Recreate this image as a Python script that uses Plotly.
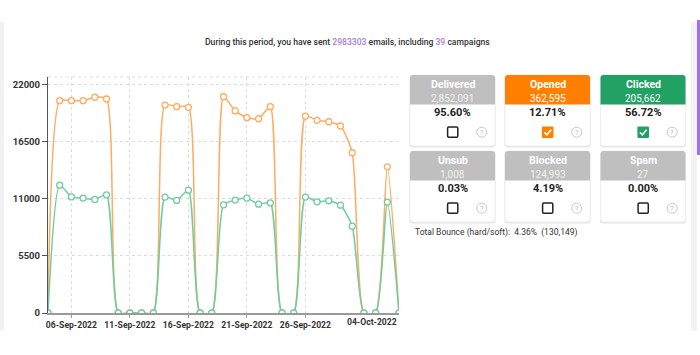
import plotly.graph_objects as go

# ---------------- data ----------------
dates = ["04-Sep-2022", "05-Sep-2022", "06-Sep-2022", "07-Sep-2022", "08-Sep-2022", "09-Sep-2022",
         "10-Sep-2022", "11-Sep-2022", "12-Sep-2022", "13-Sep-2022", "14-Sep-2022", "15-Sep-2022",
         "16-Sep-2022", "17-Sep-2022", "18-Sep-2022", "19-Sep-2022", "20-Sep-2022", "21-Sep-2022",
         "22-Sep-2022", "23-Sep-2022", "24-Sep-2022", "25-Sep-2022", "26-Sep-2022", "27-Sep-2022",
         "28-Sep-2022", "29-Sep-2022", "30-Sep-2022", "01-Oct-2022", "02-Oct-2022", "03-Oct-2022",
         "04-Oct-2022"]
opened = [0, 20460, 20460, 20460, 20790, 20620, 0, 0, 0, 0, 20040, 19880, 19820, 0, 0,
          20840, 19470, 18820, 18720, 19880, 0, 0, 18980, 18570, 18430, 18020, 15440, 0, 0,
          14090, 0]
clicked = [0, 12320, 11190, 11070, 10940, 11390, 0, 0, 0, 0, 11170, 10850, 11840, 0, 0,
           10420, 10880, 11070, 10490, 10620, 0, 0, 11170, 10710, 10810, 10390, 8370, 0, 0,
           10680, 0]
y_ticks = [0, 5500, 11000, 16500, 22000]
x_tick_idx = [2, 7, 12, 17, 22]

total_sent = 2983303
campaigns = 39

card_names = ["Delivered", "Opened", "Clicked", "Unsub", "Blocked", "Spam"]
card_counts = ["2,852,091", "362,595", "205,662", "1,008", "124,993", "27"]
card_rates = ["95.60%", "12.71%", "56.72%", "0.03%", "4.19%", "0.00%"]
card_checked = [False, True, True, False, False, False]
bounce_rate = "4.36%"
bounce_count = "130,149"

# ---------------- style ----------------
FONT = "Roboto, Lato, sans-serif"
ORANGE_LINE = "#ffab62"
GREEN_LINE = "#6fcd9f"
GRAY_HDR = "#bfbfbf"
HEADER_COLORS = [GRAY_HDR, "#ff8000", "#21a163", GRAY_HDR, GRAY_HDR, GRAY_HDR]
PURPLE = "#a57de6"

W, H = 700, 355
ML, MR, MT, MB = 48, 301, 77, 42
PW, PH = W - ML - MR, H - MT - MB


def X(px):
    return (px - ML) / PW


def Y(py):
    return (H - MB - py) / PH


def rrect_path(x0, y0, x1, y1, r, top_only=False):
    rb = 0 if top_only else r
    p = f"M {X(x0 + r)},{Y(y0)} L {X(x1 - r)},{Y(y0)} Q {X(x1)},{Y(y0)} {X(x1)},{Y(y0 + r)} "
    if rb:
        p += f"L {X(x1)},{Y(y1 - rb)} Q {X(x1)},{Y(y1)} {X(x1 - rb)},{Y(y1)} "
        p += f"L {X(x0 + rb)},{Y(y1)} Q {X(x0)},{Y(y1)} {X(x0)},{Y(y1 - rb)} "
    else:
        p += f"L {X(x1)},{Y(y1)} L {X(x0)},{Y(y1)} "
    p += f"L {X(x0)},{Y(y0 + r)} Q {X(x0)},{Y(y0)} {X(x0 + r)},{Y(y0)} Z"
    return p


idx = list(range(len(dates)))

fig = go.Figure()
fig.add_trace(go.Scatter(
    x=idx, y=opened, mode="lines+markers", name="Opened",
    line=dict(color=ORANGE_LINE, width=1.5, shape="spline", smoothing=0.6),
    marker=dict(size=6, color="white", line=dict(color=ORANGE_LINE, width=1.3)),
    hoverinfo="skip"))
fig.add_trace(go.Scatter(
    x=idx, y=clicked, mode="lines+markers", name="Clicked",
    line=dict(color=GREEN_LINE, width=1.5, shape="spline", smoothing=0.6),
    marker=dict(size=6, color="white", line=dict(color=GREEN_LINE, width=1.3)),
    hoverinfo="skip"))

shapes = []
annotations = []

# page panel strips
shapes.append(dict(type="rect", xref="paper", yref="paper", x0=X(0), x1=X(4), y0=Y(331), y1=Y(22),
                   fillcolor="#f2f2f2", line=dict(width=0), layer="below"))
shapes.append(dict(type="rect", xref="paper", yref="paper", x0=X(691), x1=X(697), y0=Y(331), y1=Y(22),
                   fillcolor="#f2f2f2", line=dict(width=0), layer="below"))
shapes.append(dict(type="rect", xref="paper", yref="paper", x0=X(697), x1=X(700), y0=Y(155), y1=Y(20),
                   fillcolor="#9f6ff0", line=dict(width=0), layer="below"))
# top dotted border of plot
shapes.append(dict(type="line", xref="paper", yref="paper", x0=0, x1=1, y0=1, y1=1,
                   line=dict(color="#dcdcdc", width=1, dash="dot"), layer="below"))

# title
annotations.append(dict(
    xref="paper", yref="paper", x=X(347), y=Y(42), xanchor="center", yanchor="middle", showarrow=False,
    text=(f"During this period, you have sent <span style='color:{PURPLE}'>{total_sent}</span> emails, "
          f"including <span style='color:{PURPLE}'>{campaigns}</span> campaigns"),
    font=dict(family=FONT, size=8.6, color="#333333", weight=500)))

# last x label aligned right at the last point
annotations.append(dict(
    xref="x", yref="paper", x=idx[-1], y=Y(321.5), xanchor="right", yanchor="middle", showarrow=False,
    text=dates[-1], font=dict(family=FONT, size=8.6, color="#333333", weight="bold")))

# cards
col_x = [(410, 495), (505, 590), (600.5, 685.5)]
row_y = [(75, 146), (151, 222)]
for i, name in enumerate(card_names):
    r, c = divmod(i, 3)
    x0, x1 = col_x[c]
    y0, y1 = row_y[r]
    cx = (x0 + x1) / 2
    hy1 = y0 + 29.5
    shapes.append(dict(type="path", xref="paper", yref="paper",
                       path=rrect_path(x0 - 0.5, y0 + 0.5, x1 + 0.5, y1 + 1.5, 3),
                       fillcolor="#e4e4e4", line=dict(width=0)))
    shapes.append(dict(type="path", xref="paper", yref="paper",
                       path=rrect_path(x0, y0, x1, y1, 3),
                       fillcolor="white", line=dict(color="#ededed", width=0.8)))
    shapes.append(dict(type="path", xref="paper", yref="paper",
                       path=rrect_path(x0, y0, x1, hy1, 3, top_only=True),
                       fillcolor=HEADER_COLORS[i], line=dict(width=0)))
    annotations.append(dict(xref="paper", yref="paper", x=X(cx), y=Y(y0 + 9), xanchor="center",
                            yanchor="middle", showarrow=False, text=name,
                            font=dict(family=FONT, size=10.5, color="white", weight="bold")))
    annotations.append(dict(xref="paper", yref="paper", x=X(cx), y=Y(y0 + 23.5), xanchor="center",
                            yanchor="middle", showarrow=False, text=card_counts[i],
                            font=dict(family=FONT, size=10,
                                      color="#f2f2f2" if HEADER_COLORS[i] == GRAY_HDR else "#ffffff")))
    annotations.append(dict(xref="paper", yref="paper", x=X(cx), y=Y(y0 + 37.7), xanchor="center",
                            yanchor="middle", showarrow=False, text=card_rates[i],
                            font=dict(family=FONT, size=11, color="#222222", weight="bold")))
    # checkbox
    bx, by = x0 + 42.7, y0 + 57.2
    s = 5.8
    if card_checked[i]:
        shapes.append(dict(type="path", xref="paper", yref="paper",
                           path=rrect_path(bx - s, by - s, bx + s, by + s, 1.2),
                           fillcolor=HEADER_COLORS[i], line=dict(width=0)))
        shapes.append(dict(type="path", xref="paper", yref="paper",
                           path=(f"M {X(bx - 3.3)},{Y(by + 0.2)} L {X(bx - 0.8)},{Y(by + 2.6)} "
                                 f"L {X(bx + 3.4)},{Y(by - 2.4)}"),
                           line=dict(color="white", width=1.6)))
    else:
        shapes.append(dict(type="path", xref="paper", yref="paper",
                           path=rrect_path(bx - s + 0.7, by - s + 0.7, bx + s - 0.7, by + s - 0.7, 1.2),
                           fillcolor="white", line=dict(color="#222222", width=1.5)))
    # help icon
    hx = x0 + 71.7
    shapes.append(dict(type="circle", xref="paper", yref="paper",
                       x0=X(hx - 5), x1=X(hx + 5), y0=Y(by + 5), y1=Y(by - 5),
                       line=dict(color="#c8c8c8", width=1), fillcolor="white"))
    annotations.append(dict(xref="paper", yref="paper", x=X(hx), y=Y(by), xanchor="center",
                            yanchor="middle", showarrow=False, text="?",
                            font=dict(family=FONT, size=7.5, color="#bcbcbc")))

annotations.append(dict(
    xref="paper", yref="paper", x=X(413), y=Y(232.5), xanchor="left", yanchor="middle", showarrow=False,
    text=f"Total Bounce (hard/soft):&nbsp;&nbsp;{bounce_rate}&nbsp;&nbsp;({bounce_count})",
    font=dict(family=FONT, size=8.5, color="#333333")))

fig.update_layout(
    width=W, height=H,
    margin=dict(l=ML, r=MR, t=MT, b=MB, pad=0, autoexpand=False),
    paper_bgcolor="white", plot_bgcolor="white",
    showlegend=False,
    shapes=shapes, annotations=annotations,
    font=dict(family=FONT, color="#333333"),
    xaxis=dict(range=[0, len(dates) - 1], tickmode="array", tickvals=x_tick_idx,
               ticktext=[dates[i] for i in x_tick_idx], tickangle=0, automargin=False,
               showline=True, linecolor="#9a9a9a", linewidth=1.5,
               ticks="outside", ticklen=3, tickcolor="#9a9a9a", tickwidth=1,
               showgrid=True, gridcolor="#dcdcdc", griddash="dot", gridwidth=1,
               zeroline=False, fixedrange=True,
               tickfont=dict(family=FONT, size=8.6, color="#333333", weight="bold")),
    yaxis=dict(range=[0, 22742], tickmode="array", tickvals=y_ticks,
               ticktext=[str(v) for v in y_ticks], automargin=False,
               showline=True, linecolor="#555555", linewidth=1.2,
               ticks="outside", ticklen=5, tickcolor="#555555", tickwidth=1,
               showgrid=True, gridcolor="#dcdcdc", griddash="dot", gridwidth=1,
               zeroline=False, fixedrange=True,
               tickfont=dict(family=FONT, size=9.5, color="#333333", weight="bold")),
)

fig.write_html("out.html", config={"displayModeBar": False},
               post_script="document.body.style.margin='0';document.body.style.overflow='hidden';")
